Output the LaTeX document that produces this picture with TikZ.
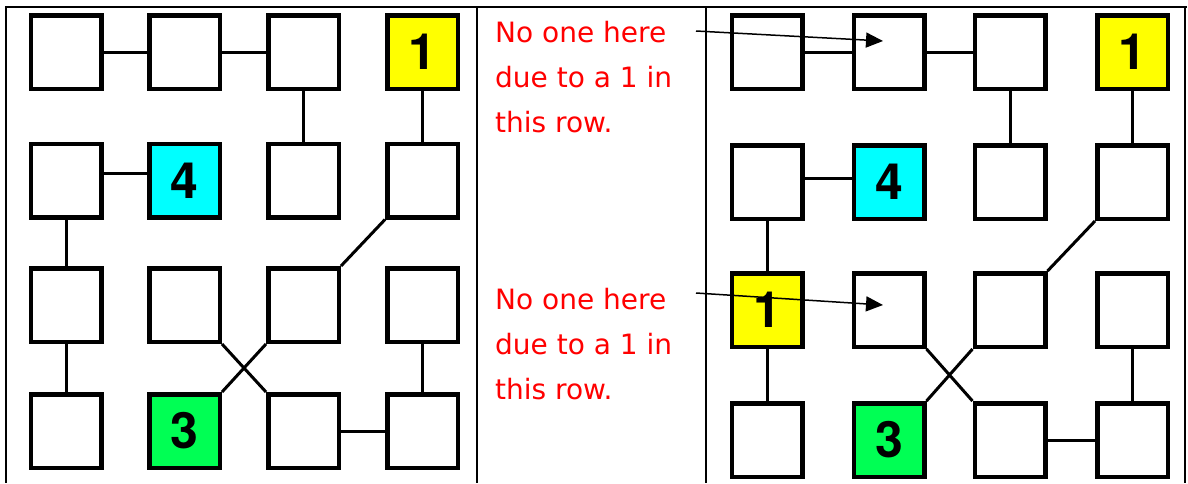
\documentclass[tikz,border=0pt]{standalone}
\usepackage{fontspec}
\setmainfont{TeX Gyre Heros}
\newfontfamily\notefont{DejaVu Sans}
\usetikzlibrary{arrows.meta}
\definecolor{OneClr}{rgb}{1,1,0}
\definecolor{FourClr}{rgb}{0,1,1}
\definecolor{ThreeClr}{rgb}{0,1,0.33}
\definecolor{NoteClr}{rgb}{1,0,0}

\begin{document}
\begin{tikzpicture}[x=1pt,y=-1pt,
  cell/.style={draw,line width=4.5pt,minimum width=70.5pt,minimum height=73.5pt,inner sep=0pt,font=\fontsize{50}{50}\selectfont\bfseries},
  link/.style={line width=3pt},
  frame/.style={line width=2pt},
  note/.style={text=NoteClr,align=left,inner sep=0pt,font=\notefont\fontsize{28}{45}\selectfont},
  pointer/.style={line width=1.5pt,-{Triangle[length=17pt,width=15pt]}}]
\useasboundingbox (0,0) rectangle (1188,483);

\draw[frame] (5,7) -- (1187,7);
\draw[frame] (6,7) -- (6,483) (477,7) -- (477,483) (706,7) -- (706,483) (1185,7) -- (1185,483);

% left grid
\foreach \c/\x in {1/66,2/184.5,3/303.5} \node[cell] (L1\c) at (\x,52) {};
\node[cell,fill=OneClr] (L14) at (422.5,52) {1};
\node[cell] (L21) at (66,180.5) {};
\node[cell,fill=FourClr] (L22) at (184.5,180.5) {4};
\foreach \c/\x in {3/303.5,4/422.5} \node[cell] (L2\c) at (\x,180.5) {};
\foreach \c/\x in {1/66,2/184.5,3/303.5,4/422.5} \node[cell] (L3\c) at (\x,305) {};
\node[cell] (L41) at (66,431) {};
\node[cell,fill=ThreeClr] (L42) at (184.5,431) {3};
\foreach \c/\x in {3/303.5,4/422.5} \node[cell] (L4\c) at (\x,431) {};

\draw[link] (L11) -- (L12) (L12) -- (L13) (L13) -- (L23) (L14) -- (L24);
\draw[link] ([yshift=7pt]L21.east) -- ([yshift=7pt]L22.west) (L21) -- (L31) (L31) -- (L41);
\draw[link] (L24.south west) -- (L33.north east);
\draw[link] (L32.south east) -- (L43.north west) (L33.south west) -- (L42.north east);
\draw[link] (L34) -- (L44) (L43) -- (L44);

% notes
\node[note,anchor=north west] (note1) at (495,21) {No one here\\due to a 1 in\\this row.};
\node[note,anchor=north west] (note2) at (495,288) {No one here\\due to a 1 in\\this row.};

% right grid
\foreach \c/\x in {1/767,2/889,3/1010} \node[cell] (R1\c) at (\x,52) {};
\node[cell,fill=OneClr] (R14) at (1132.5,52) {1};
\node[cell] (R21) at (767,182) {};
\node[cell,fill=FourClr] (R22) at (889,182) {4};
\foreach \c/\x in {3/1010,4/1132.5} \node[cell] (R2\c) at (\x,182) {};
\node[cell,fill=OneClr] (R31) at (767,310) {1};
\foreach \c/\x in {2/889,3/1010,4/1132.5} \node[cell] (R3\c) at (\x,310) {};
\node[cell] (R41) at (767,440) {};
\node[cell,fill=ThreeClr] (R42) at (889,440) {3};
\foreach \c/\x in {3/1010,4/1132.5} \node[cell] (R4\c) at (\x,440) {};

\draw[link] (R11) -- (R12) (R12) -- (R13) (R13) -- (R23) (R14) -- (R24);
\draw[link] ([yshift=4pt]R21.east) -- ([yshift=4pt]R22.west) (R21) -- (R31) (R31) -- (R41);
\draw[link] (R24.south west) -- (R33.north east);
\draw[link] (R32.south east) -- (R43.north west) (R33.south west) -- (R42.north east);
\draw[link] (R34) -- (R44) (R43) -- (R44);

\coordinate (p1) at (696,31);
\coordinate (t1) at (883,41);
\coordinate (p2) at (696,293);
\coordinate (t2) at (883,305);
\draw[pointer] (p1) -- (t1);
\draw[pointer] (p2) -- (t2);

\end{tikzpicture}
\end{document}
